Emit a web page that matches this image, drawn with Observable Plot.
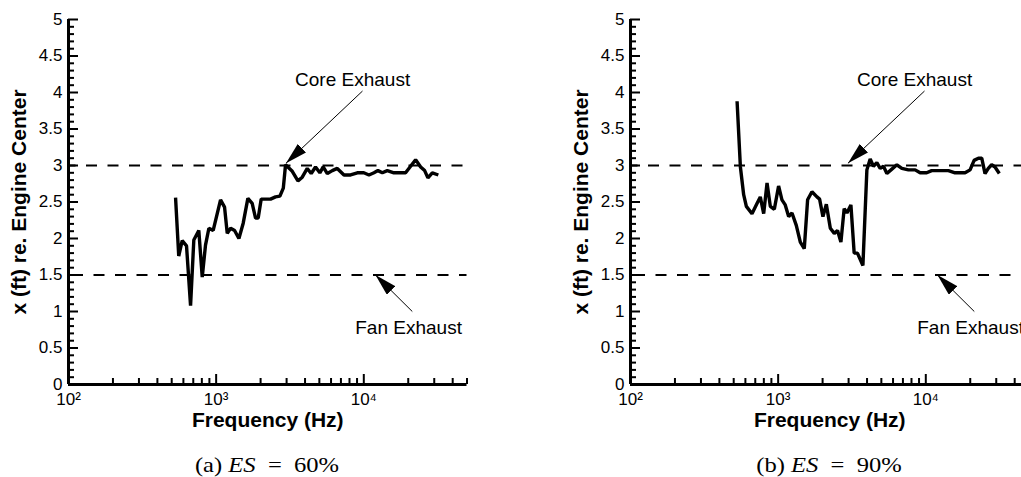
<!DOCTYPE html>
<html>
<head>
<meta charset="utf-8">
<script src="https://cdn.jsdelivr.net/npm/d3@7"></script>
<script src="https://cdn.jsdelivr.net/npm/@observablehq/plot@0.6"></script>
<style>
  html, body { margin: 0; padding: 0; background: #fff; }
  #wrap { position: relative; width: 1021px; height: 477px; overflow: hidden; background: #fff; }
  .panel { position: absolute; top: 0; }
  .cap { position: absolute; top: 455px; width: 400px; text-align: center;
         font-family: "Liberation Serif", "DejaVu Serif", serif; font-size: 21px; line-height: 21px; color: #000;
         white-space: pre; transform: scaleX(1.17); transform-origin: 50% 50%; }
</style>
</head>
<body>
<div id="wrap"></div>
<script>
// ---- data ----
const freqA = [531, 558, 589, 630, 671, 706, 763, 805, 847, 893, 955, 1071, 1140, 1189, 1253, 1333, 1426, 1525, 1640, 1754,
  1849, 1927, 2019, 2336, 2525, 2703, 2850, 2951, 3278, 3580, 3830, 4140, 4404, 4710, 5040, 5310, 5660, 6120, 6610, 7340,
  8140, 9040, 10000, 10840, 11720, 12470, 13350, 14420, 16000, 19190, 20750, 22440, 24270, 25830, 27180, 29110, 31980];
const xA = [2.56, 1.76, 1.97, 1.90, 1.08, 1.98, 2.11, 1.47, 1.91, 2.14, 2.11, 2.53, 2.43, 2.07, 2.14, 2.11, 2.00, 2.21, 2.55, 2.48,
  2.28, 2.28, 2.54, 2.54, 2.57, 2.58, 2.69, 3.01, 2.92, 2.79, 2.84, 2.96, 2.89, 2.98, 2.90, 2.98, 2.89, 2.93, 2.96, 2.87,
  2.87, 2.90, 2.90, 2.87, 2.90, 2.93, 2.90, 2.93, 2.90, 2.90, 2.99, 3.08, 2.98, 2.93, 2.83, 2.90, 2.87];

const freqB = [527, 555, 584, 609, 665, 719, 757, 798, 841, 885, 942, 1007, 1061, 1117, 1178, 1241, 1327, 1413, 1503, 1583,
  1694, 1832, 1909, 2011, 2120, 2256, 2400, 2525, 2661, 2800, 2923, 3110, 3273, 3444, 3750, 3990, 4200, 4420, 4660, 4910,
  5170, 5450, 5890, 6370, 6880, 7630, 8470, 9150, 10140, 10960, 12500, 14230, 15780, 18450, 19950, 21240, 22720, 23930, 25190, 26510,
  27930, 29420, 31470];
const xB = [3.88, 2.98, 2.60, 2.44, 2.34, 2.48, 2.57, 2.34, 2.76, 2.44, 2.40, 2.72, 2.53, 2.46, 2.30, 2.35, 2.18, 1.95, 1.86, 2.53,
  2.64, 2.57, 2.54, 2.30, 2.47, 2.14, 2.07, 2.11, 1.95, 2.41, 2.35, 2.46, 1.80, 1.80, 1.63, 2.94, 3.09, 2.99, 3.04, 2.96,
  2.99, 2.89, 2.95, 3.01, 2.96, 2.94, 2.94, 2.90, 2.90, 2.93, 2.93, 2.93, 2.90, 2.90, 2.94, 3.07, 3.10, 3.10, 2.89, 2.96,
  3.01, 2.98, 2.89];

const xDomain = [100, 50000];
const yDomain = [0, 5];
const xTicks = [100, 1000, 10000];
const xTickLabels = ["10\u00B2", "10\u00B3", "10\u2074"];
const xMinor = [200, 300, 400, 500, 600, 700, 800, 900, 2000, 3000, 4000, 5000, 6000, 7000, 8000, 9000, 20000, 30000, 40000, 50000];
const yTicks = [0, 0.5, 1, 1.5, 2, 2.5, 3, 3.5, 4, 4.5, 5];
const yTickLabels = ["0", "0.5", "1", "1.5", "2", "2.5", "3", "3.5", "4", "4.5", "5"];
const yMinor = [0.1, 0.2, 0.3, 0.4, 0.6, 0.7, 0.8, 0.9, 1.1, 1.2, 1.3, 1.4, 1.6, 1.7, 1.8, 1.9, 2.1, 2.2, 2.3, 2.4,
  2.6, 2.7, 2.8, 2.9, 3.1, 3.2, 3.3, 3.4, 3.6, 3.7, 3.8, 3.9, 4.1, 4.2, 4.3, 4.4, 4.6, 4.7, 4.8, 4.9];

const coreY = 3.0;
const fanY = 1.5;
const labelNames = ["Core Exhaust", "Fan Exhaust"];
const labelX = [8400, 20100];
const labelY = [4.17, 0.78];
const arrowFromX = [9800, 21300];
const arrowFromY = [4.02, 1.0];
const arrowToX = [2970, 12000];
const arrowToY = [3.03, 1.5];

const xTitle = "Frequency (Hz)";
const yTitle = "x (ft) re. Engine Center";
const captionTags = ["(a)", "(b)"];
const captionValues = ["60%", "90%"];

// ---- drawing ----
const wrap = document.getElementById("wrap");
const PW = 562, PH = 440;
const M = {left: 68, right: 95.5, top: 19, bottom: 56};
const frameW = PW - M.left - M.right;
const frameH = PH - M.top - M.bottom;

function panel(freq, vals, left, idx) {
  const data = freq.map((f, i) => ({f, v: vals[i]}));
  const labels = labelNames.map((t, i) => ({t, x: labelX[i], y: labelY[i]}));
  const arrows = labelNames.map((t, i) => ({x1: arrowFromX[i], y1: arrowFromY[i], x2: arrowToX[i], y2: arrowToY[i]}));
  const majorLen = 10, minorLen = 6, tw = 2;
  const svg = Plot.plot({
    width: PW, height: PH,
    marginLeft: M.left, marginRight: M.right, marginTop: M.top, marginBottom: M.bottom,
    style: {fontFamily: '"Liberation Sans", Arial, Helvetica, sans-serif', fontSize: "17px", background: "white"},
    x: {type: "log", domain: xDomain, label: null},
    y: {domain: yDomain, label: null},
    marks: [
      Plot.ruleY([coreY], {stroke: "black", strokeWidth: 2, strokeDasharray: "11,10.5", strokeDashoffset: 3.5}),
      Plot.ruleY([fanY], {stroke: "black", strokeWidth: 2, strokeDasharray: "11,10.5", strokeDashoffset: 17.5}),
      Plot.line(data, {x: "f", y: "v", stroke: "black", strokeWidth: 3.4, strokeLinejoin: "miter", strokeLinecap: "butt"}),
      Plot.link(arrows, {x1: "x1", y1: "y1", x2: "x2", y2: "y2", stroke: "black", strokeWidth: 1}),
      Plot.text(labels, {x: "x", y: "y", text: "t", fontSize: 19, fill: "black"}),
      // tick labels
      Plot.axisX(xTicks, {tickSize: 0, tickPadding: 8, tickFormat: d => xTickLabels[xTicks.indexOf(d)], label: null, fontSize: 17}),
      Plot.axisY(yTicks, {tickSize: 0, tickPadding: 6, tickFormat: d => yTickLabels[yTicks.indexOf(d)], label: null, fontSize: 17}),
      // axis lines
      Plot.ruleX([xDomain[0]], {stroke: "black", strokeWidth: 3}),
      Plot.ruleY([yDomain[0]], {stroke: "black", strokeWidth: 3}),
      // inward tick marks
      Plot.tickX(xMinor, {x: d => d, insetTop: frameH - minorLen, stroke: "black", strokeWidth: tw}),
      Plot.tickX(xTicks, {x: d => d, insetTop: frameH - majorLen, stroke: "black", strokeWidth: tw}),
      Plot.tickY(yMinor, {y: d => d, insetRight: frameW - minorLen, stroke: "black", strokeWidth: tw}),
      Plot.tickY(yTicks, {y: d => d, insetRight: frameW - majorLen, stroke: "black", strokeWidth: tw}),
      // titles
      Plot.text([xTitle], {text: d => d, frameAnchor: "bottom", dy: 36, textAnchor: "middle", lineAnchor: "middle", fontWeight: "bold", fontSize: 21, fill: "black"}),
      Plot.text([yTitle], {text: d => d, frameAnchor: "left", dx: -49, rotate: -90, textAnchor: "middle", lineAnchor: "middle", fontWeight: "bold", fontSize: 21, fill: "black"})
    ]
  });
  // filled arrowheads on the annotation links
  const id = "ah" + idx;
  const s = d3.select(svg);
  const defs = s.insert("defs", ":first-child");
  defs.append("marker").attr("id", id)
    .attr("viewBox", "0 -6 22 12").attr("refX", 22).attr("refY", 0)
    .attr("markerWidth", 22).attr("markerHeight", 12)
    .attr("markerUnits", "userSpaceOnUse").attr("orient", "auto")
    .append("path").attr("d", "M0,-6L22,0L0,6Z").attr("fill", "black");
  s.selectAll('g[aria-label="link"] path').attr("marker-end", `url(#${id})`);

  svg.classList.add("panel");
  svg.style.left = left + "px";
  wrap.appendChild(svg);

  const cap = document.createElement("div");
  cap.className = "cap";
  cap.style.left = (left + 68 + 199 - 200) + "px";
  cap.innerHTML = `${captionTags[idx]} <i>ES</i>&ensp;=&ensp;${captionValues[idx]}`;
  wrap.appendChild(cap);
}

panel(freqA, xA, 0, 0);
panel(freqB, xB, PW, 1);
</script>
</body>
</html>
